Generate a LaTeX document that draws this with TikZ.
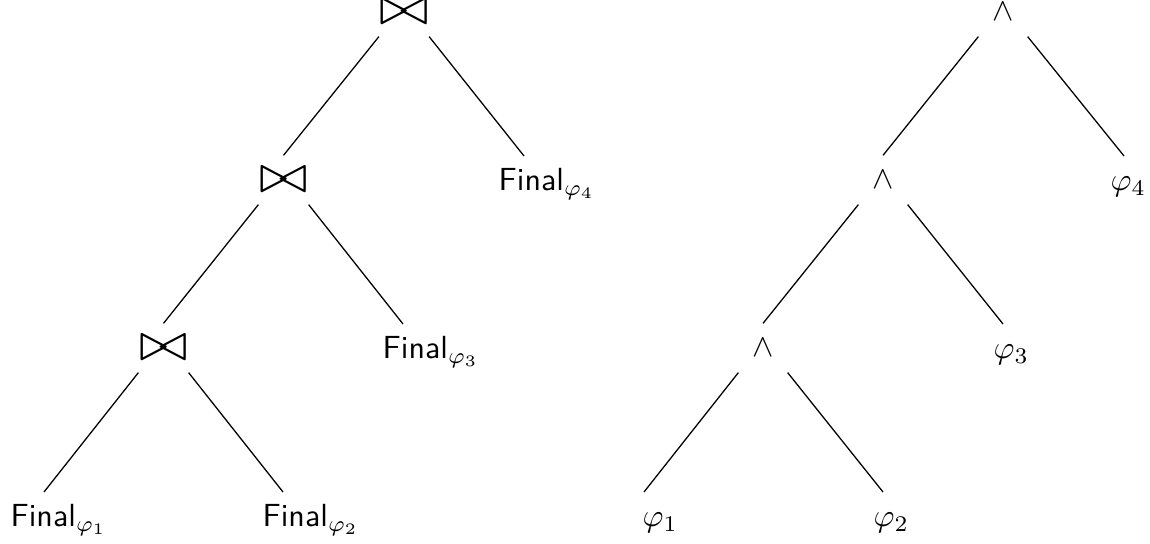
\documentclass[tikz,border=0pt]{standalone}
\usepackage{graphicx}
\usetikzlibrary{calc}
\newcommand{\bigjoin}{\resizebox*{15.3pt}{7.8pt}{$\bowtie$}}
\begin{document}
\begin{tikzpicture}[x=0.3125pt,y=-0.3125pt,
  op/.style={rectangle,inner sep=0pt,minimum width=15pt,minimum height=15pt},
  leaf/.style={anchor=base west,inner sep=0pt},
  edge/.style={draw=black,line width=0.4pt}]
\path[use as bounding box] (0,0) rectangle (1150,544);
% left tree
\node[op] (J1) at (404,12) {\bigjoin};
\node[op] (J2) at (283.5,180) {\bigjoin};
\node[op] (J3) at (163.5,348) {\bigjoin};
\node[leaf] (F1) at (10,527) {\textsf{Final}$_{\varphi_1}$};
\node[leaf] (F2) at (262,527) {\textsf{Final}$_{\varphi_2}$};
\node[leaf] (F3) at (382,359) {\textsf{Final}$_{\varphi_3}$};
\node[leaf] (F4) at (498,191) {\textsf{Final}$_{\varphi_4}$};
\draw[edge] (J1.south west) -- (J2.north);
\draw[edge] (J1.south east) -- ($(F4.base west)+(26,-35)$);
\draw[edge] (J2.south west) -- (J3.north);
\draw[edge] (J2.south east) -- ($(F3.base west)+(21,-35)$);
\draw[edge] (J3.south west) -- ($(F1.base west)+(34,-35)$);
\draw[edge] (J3.south east) -- ($(F2.base west)+(21,-35)$);
% right tree
\node[op] (A1) at (1003,12) {\raisebox{-1pt}{$\wedge$}};
\node[op] (A2) at (883,180) {\raisebox{-1pt}{$\wedge$}};
\node[op] (A3) at (763,348) {\raisebox{-1pt}{$\wedge$}};
\node[leaf] (P1) at (642,527) {$\varphi_1$};
\node[leaf] (P2) at (873,527) {$\varphi_2$};
\node[leaf] (P3) at (993,359) {$\varphi_3$};
\node[leaf] (P4) at (1110,191) {$\varphi_4$};
\draw[edge] (A1.south west) -- (A2.north);
\draw[edge] (A1.south east) -- ($(P4.base west)+(14,-35)$);
\draw[edge] (A2.south west) -- (A3.north);
\draw[edge] (A2.south east) -- ($(P3.base west)+(10,-35)$);
\draw[edge] (A3.south west) -- ($(P1.base west)+(2,-35)$);
\draw[edge] (A3.south east) -- ($(P2.base west)+(10,-35)$);
\end{tikzpicture}
\end{document}
